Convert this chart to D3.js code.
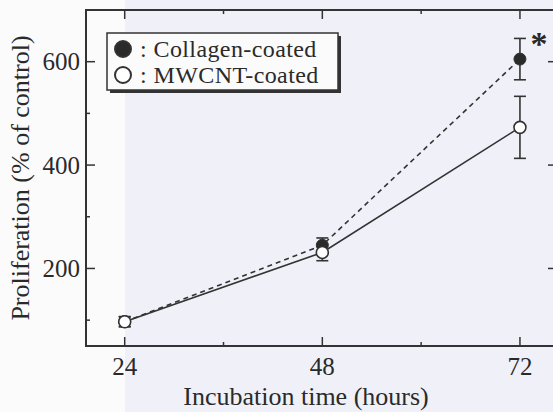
<!DOCTYPE html>
<html>
<head>
<meta charset="utf-8">
<script src="https://cdn.jsdelivr.net/npm/d3@7"></script>
<style>
  body { margin: 0; background: #fbfbfc; }
  svg { display: block; }
  text { font-family: "Liberation Serif", "Times New Roman", serif; fill: #2a2a2a; }
</style>
</head>
<body>
<div id="chart"></div>
<script>
// data
const hours = [24, 48, 72];
const collagen = [97, 245, 605];
const collagenErr = [10, 14, 40];
const mwcnt = [97, 231, 473];
const mwcntErr = [9, 16, 60];
const xMajor = [24, 48, 72];
const xMinor = [36, 60];
const yMajor = [200, 400, 600];
const yMinor = [100, 300, 500];

const width = 553;
const height = 412;
const ink = "#333";

const svg = d3.select("#chart")
    .append("svg")
    .attr("width", width)
    .attr("height", height);

// scan tint on the right part of the page
svg.append("rect")
    .attr("x", 125).attr("y", 0)
    .attr("width", width - 125).attr("height", height)
    .attr("fill", "#f0f1f8");

const x = d3.scaleLinear().domain([19.3, 76.5]).range([86, 557]);
const y = d3.scaleLinear().domain([50, 700]).range([346, 10]);

const plotL = x.range()[0], plotR = x.range()[1];
const plotT = y.range()[1], plotB = y.range()[0];

// frame
svg.append("rect")
    .attr("x", plotL).attr("y", plotT)
    .attr("width", plotR - plotL).attr("height", plotB - plotT)
    .attr("fill", "none")
    .attr("stroke", ink)
    .attr("stroke-width", 2);

// inward ticks on all four sides
function xTicks(vals, len) {
    vals.forEach(v => {
        svg.append("line").attr("x1", x(v)).attr("x2", x(v))
            .attr("y1", plotB).attr("y2", plotB - len)
            .attr("stroke", ink).attr("stroke-width", 1.5);
        svg.append("line").attr("x1", x(v)).attr("x2", x(v))
            .attr("y1", plotT).attr("y2", plotT + len)
            .attr("stroke", ink).attr("stroke-width", 1.5);
    });
}
function yTicks(vals, len) {
    vals.forEach(v => {
        svg.append("line").attr("x1", plotL).attr("x2", plotL + len)
            .attr("y1", y(v)).attr("y2", y(v))
            .attr("stroke", ink).attr("stroke-width", 1.5);
        svg.append("line").attr("x1", plotR).attr("x2", plotR - len)
            .attr("y1", y(v)).attr("y2", y(v))
            .attr("stroke", ink).attr("stroke-width", 1.5);
    });
}
xTicks(xMajor, 9);
xTicks(xMinor, 4);
yTicks(yMajor, 9);
yTicks(yMinor, 4);

// tick labels
xMajor.forEach(v => {
    svg.append("text")
        .attr("x", x(v)).attr("y", 375)
        .attr("text-anchor", "middle")
        .attr("font-size", "25px")
        .text(v);
});
yMajor.forEach(v => {
    svg.append("text")
        .attr("x", 80).attr("y", y(v))
        .attr("dy", "0.34em")
        .attr("text-anchor", "end")
        .attr("font-size", "25px")
        .text(v);
});

// axis titles
svg.append("text")
    .attr("x", 306).attr("y", 405)
    .attr("text-anchor", "middle")
    .attr("font-size", "26px")
    .text("Incubation time (hours)");

svg.append("text")
    .attr("transform", "translate(29,178) rotate(-90)")
    .attr("text-anchor", "middle")
    .attr("font-size", "26px")
    .text("Proliferation (% of control)");

// series lines
const line = d3.line().x(d => x(d[0])).y(d => y(d[1]));

svg.append("path")
    .datum(d3.zip(hours, collagen))
    .attr("d", line)
    .attr("fill", "none")
    .attr("stroke", ink)
    .attr("stroke-width", 1.6)
    .attr("stroke-dasharray", "5,4");

svg.append("path")
    .datum(d3.zip(hours, mwcnt))
    .attr("d", line)
    .attr("fill", "none")
    .attr("stroke", ink)
    .attr("stroke-width", 1.6);

// error bars
function errorBars(vals, errs) {
    vals.forEach((v, i) => {
        const cx = x(hours[i]);
        const g = svg.append("g").attr("stroke", ink).attr("stroke-width", 1.6);
        g.append("line").attr("x1", cx).attr("x2", cx)
            .attr("y1", y(v - errs[i])).attr("y2", y(v + errs[i]));
        [v - errs[i], v + errs[i]].forEach(e => {
            g.append("line").attr("x1", cx - 6).attr("x2", cx + 6)
                .attr("y1", y(e)).attr("y2", y(e));
        });
    });
}
errorBars(collagen, collagenErr);
errorBars(mwcnt, mwcntErr);

// markers (open ones drawn on top, as at 24 h)
svg.selectAll(".col")
    .data(d3.zip(hours, collagen))
    .join("circle")
    .attr("cx", d => x(d[0]))
    .attr("cy", d => y(d[1]))
    .attr("r", 6)
    .attr("fill", "#2a2a2a")
    .attr("stroke", ink)
    .attr("stroke-width", 1);

svg.selectAll(".mw")
    .data(d3.zip(hours, mwcnt))
    .join("circle")
    .attr("cx", d => x(d[0]))
    .attr("cy", d => y(d[1]))
    .attr("r", 6)
    .attr("fill", "#fff")
    .attr("stroke", ink)
    .attr("stroke-width", 1.6);

// significance mark
svg.append("text")
    .attr("x", 539).attr("y", 55)
    .attr("text-anchor", "middle")
    .attr("font-size", "34px")
    .attr("font-weight", "bold")
    .text("*");

// legend with drop shadow
const legend = svg.append("g");
legend.append("rect")
    .attr("x", 110).attr("y", 36)
    .attr("width", 231).attr("height", 57)
    .attr("fill", ink);
legend.append("rect")
    .attr("x", 107).attr("y", 33)
    .attr("width", 231).attr("height", 57)
    .attr("fill", "#fbfbfc")
    .attr("stroke", ink)
    .attr("stroke-width", 1.5);

const legendItems = [
    { label: ": Collagen-coated", fill: "#2a2a2a" },
    { label: ": MWCNT-coated", fill: "#fff" }
];
legendItems.forEach((d, i) => {
    const cy = 49 + i * 26;
    legend.append("circle")
        .attr("cx", 123).attr("cy", cy)
        .attr("r", 8)
        .attr("fill", d.fill)
        .attr("stroke", ink)
        .attr("stroke-width", 2);
    legend.append("text")
        .attr("x", 140).attr("y", cy + 8)
        .attr("font-size", "24px")
        .attr("letter-spacing", "0.4px")
        .text(d.label);
});
</script>
</body>
</html>
